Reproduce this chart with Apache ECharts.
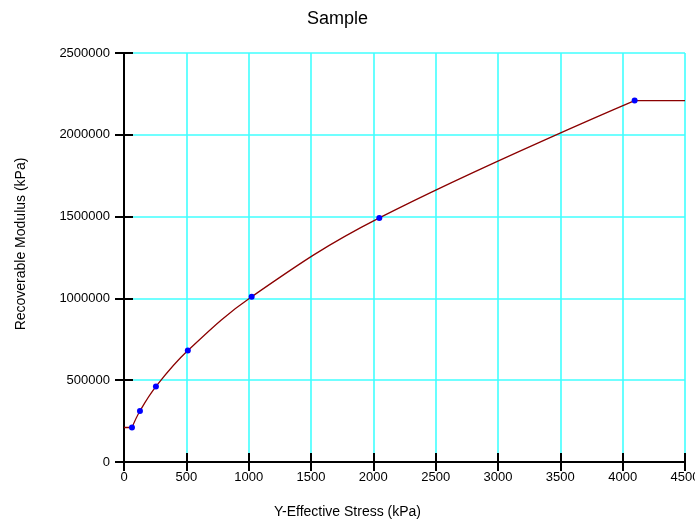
<!DOCTYPE html>
<html>
<head>
<meta charset="utf-8">
<script src="https://cdn.jsdelivr.net/npm/echarts@6/dist/echarts.min.js"></script>
<style>html,body{margin:0;padding:0;background:#fff}#c{width:695px;height:522px}</style>
</head>
<body>
<div id="c"></div>
<script>
var titleText = 'Sample';
var xName = 'Y-Effective Stress (kPa)';
var yName = 'Recoverable Modulus (kPa)';
var xMin = 0, xMax = 4500, xStep = 500;
var yMin = 0, yMax = 2500000, yStep = 500000;
var stress = [64, 128, 256, 512, 1024, 2048, 4096];
var modulus = [211000, 312000, 461000, 681000, 1010000, 1492000, 2209000];

var pts = stress.map(function (s, i) { return [s, modulus[i]]; });
var leftFlat = [[xMin, modulus[0]], [stress[0], modulus[0]]];
var rightFlat = [[stress[stress.length - 1], modulus[modulus.length - 1]], [xMax, modulus[modulus.length - 1]]];

var FONT = 'Liberation Sans, Arial, sans-serif';
var chart = echarts.init(document.getElementById('c'), null, { renderer: 'canvas' });
var lineColor = '#8b0000';
var gridColor = '#40ffff';
function plain(v) { return String(v); }

function xAx(inside, main) {
  return {
    type: 'value', min: xMin, max: xMax, interval: xStep, position: 'bottom', offset: 0,
    axisLine: { show: main, onZero: false, lineStyle: { color: '#000', width: 2 } },
    axisTick: { show: true, inside: inside, length: 9, lineStyle: { color: '#000', width: 2 } },
    axisLabel: { show: main, margin: 9, color: '#000', fontSize: 13, fontFamily: FONT, showMaxLabel: true, formatter: plain, hideOverlap: false },
    splitLine: { show: main, lineStyle: { color: gridColor, width: 1.6 } }
  };
}
function yAx(inside, main) {
  return {
    type: 'value', min: yMin, max: yMax, interval: yStep, position: 'left', offset: 0,
    axisLine: { show: main, onZero: false, lineStyle: { color: '#000', width: 2 } },
    axisTick: { show: true, inside: inside, length: 9, lineStyle: { color: '#000', width: 2 } },
    axisLabel: { show: main, margin: 14, color: '#000', fontSize: 13, fontFamily: FONT, formatter: plain },
    splitLine: { show: main, lineStyle: { color: gridColor, width: 1.6 } }
  };
}

chart.setOption({
  animation: false,
  backgroundColor: '#fff',
  title: { text: titleText, left: 302, top: 5, textStyle: { fontSize: 18, fontWeight: 'normal', color: '#000', fontFamily: FONT } },
  grid: { left: 124, right: 10, top: 53, bottom: 60, containLabel: false, outerBoundsMode: 'none' },
  xAxis: [xAx(false, true), xAx(true, false)],
  yAxis: [yAx(false, true), yAx(true, false)],
  graphic: [
    { type: 'text', left: 'center', top: 505, style: { text: xName, fontSize: 14, fontFamily: FONT, fill: '#000' } },
    { type: 'text', x: 14, y: 244, rotation: Math.PI / 2, style: { text: yName, fontSize: 14, fontFamily: FONT, fill: '#000', align: 'center', verticalAlign: 'top' } }
  ],
  series: [
    { type: 'line', xAxisIndex: 0, yAxisIndex: 0, data: leftFlat, showSymbol: false, symbol: 'none', lineStyle: { color: lineColor, width: 1.3 }, z: 3 },
    { type: 'line', xAxisIndex: 0, yAxisIndex: 0, data: pts, smooth: 0.4, symbol: 'circle', symbolSize: 6, showSymbol: true,
      itemStyle: { color: '#0000ff' }, lineStyle: { color: lineColor, width: 1.3 }, z: 4 },
    { type: 'line', xAxisIndex: 0, yAxisIndex: 0, data: rightFlat, showSymbol: false, symbol: 'none', lineStyle: { color: lineColor, width: 1.3 }, z: 3 }
  ]
});
</script>
</body>
</html>
